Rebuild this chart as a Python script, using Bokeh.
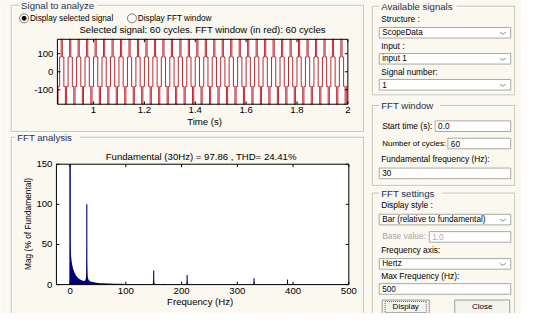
import numpy as np
from bokeh.plotting import figure
from bokeh.models import Range1d
from bokeh.core.properties import value
from bokeh.embed import file_html
from bokeh.resources import INLINE

# ---------------- data ----------------
# Signal to analyze: one period of the stepped waveform (phase within a cycle, level)
wave_cycle_phase = [0.0, 0.18, 0.18, 0.32, 0.32, 0.5, 0.5, 0.68, 0.68, 0.82, 0.82, 1.0]
wave_cycle_level = [82, 82, 180, 180, 82, 82, -82, -82, -180, -180, -82, -82]
fundamental_hz = 30
n_cycles = 60
time_view = [0.858, 2.0]
amp_view = [-180, 180]
time_ticks = [1.0, 1.2, 1.4, 1.6, 1.8, 2.0]
time_tick_labels = ["1", "1.2", "1.4", "1.6", "1.8", "2"]
amp_ticks = [-100, 0, 100]
amp_tick_labels = ["-100", "0", "100"]

# FFT analysis: continuous part of the spectrum (Hz, % of fundamental)
spectrum_hz = [0, 0.5, 1, 1.5, 2, 3, 4, 5, 6, 7, 8, 10, 12, 14, 16, 18, 20, 22, 24, 25,
               26, 27, 28, 28.5, 29, 29.5, 30, 30.5, 31, 31.5, 32, 33, 34, 35, 37, 40, 45, 50, 55, 60,
               70, 80, 90, 100, 110, 120, 130, 140, 148, 149, 149.5, 150, 150.5, 151, 152, 160, 168, 169.5, 170, 170.5,
               172, 180, 190, 200, 207, 208, 209, 209.5, 210, 210.5, 211, 212, 220, 240, 260, 280, 300, 320, 328, 329,
               329.5, 330, 330.5, 331, 332, 350, 370, 388, 389, 389.5, 390, 390.5, 391, 392, 420, 450, 480, 500]
spectrum_pct = [52, 50, 44, 38, 34, 28, 24, 21, 18.5, 16.5, 15, 12, 10, 8.5, 7.4, 6.5, 5.7, 5.0, 4.6, 4.5,
                4.7, 5.4, 7, 9, 13, 25, 57, 26, 14, 10.5, 8.5, 6.5, 5.3, 4.6, 3.8, 3.1, 2.5, 2.1, 1.8, 1.6,
                1.3, 1.1, 1.0, 0.9, 0.8, 0.7, 0.7, 0.6, 0.8, 2, 6, 10, 6, 2, 0.8, 0.5, 0.6, 0.8, 1.5, 0.8,
                0.5, 0.4, 0.4, 0.5, 0.6, 0.8, 1.5, 4, 7, 4, 1.5, 0.8, 0.4, 0.3, 0.3, 0.3, 0.3, 0.3, 0.4, 1,
                3, 5, 3, 1, 0.4, 0.3, 0.3, 0.4, 1, 2.5, 4, 2.5, 1, 0.4, 0.3, 0.3, 0.3, 0.3]
# DC component (beyond the axis top) and harmonic lines
dc_hz = [0]
dc_pct = [165]
harmonic_hz = [30, 150, 210, 330, 390]
harmonic_pct = [100, 17.5, 12, 8, 6.3]
freq_view = [-24.5, 500]
mag_view = [0, 150]
freq_ticks = [0, 100, 200, 300, 400, 500]
freq_tick_labels = ["0", "100", "200", "300", "400", "500"]
mag_ticks = [0, 50, 100, 150]
mag_tick_labels = ["0", "50", "100", "150"]

# ---------------- styling ----------------
BG = "#faf8ef"
EDGE = "#c8c6ba"
NAVY = "#00007a"
WAVE = "#c0282d"
CHART_FONT = value("Liberation Sans")
GUI_FONT = value("Liberation Sans")

# Canvas in reference-pixel coordinates
p = figure(width=521, height=313, x_range=Range1d(4, 535), y_range=Range1d(329, 4),
           output_backend="svg", toolbar_location=None, min_border=0,
           x_axis_location=None, y_axis_location=None,
           background_fill_color=BG, border_fill_color=BG, outline_line_color=None)
p.grid.visible = False


def label(x, y, s, size="8.4px", color="#000000", align="left", angle=0.0, font=GUI_FONT, target=None,
          baseline="middle", x_off=0, y_off=0):
    (target or p).text(x=[x], y=[y], text=[s], text_font=font, text_font_size=value(size),
                       text_color=color, text_align=align, text_baseline=baseline, angle=angle,
                       x_offset=x_off, y_offset=y_off)


def panel(x0, y0, x1, y1, title, tx, tw):
    p.quad(left=[x0 + 1], right=[x1 + 1], top=[y0 + 1], bottom=[y1 + 1], fill_color=None,
           line_color="#ffffff", line_width=1)
    p.quad(left=[x0], right=[x1], top=[y0], bottom=[y1], fill_color=None, line_color=EDGE, line_width=1)
    p.quad(left=[tx - 2], right=[tx + tw + 2], top=[y0 - 2.5], bottom=[y0 + 2.5], fill_color=BG, line_color=None)
    label(tx, y0, title, size="9.6px", color="#22305a")


def box(x0, y0, x1, y1, s, dropdown=False, color="#000000"):
    p.quad(left=[x0], right=[x1], top=[y0], bottom=[y1], fill_color="#ffffff", line_color="#a9a9a4")
    label(x0 + 3, (y0 + y1) / 2, s, size="8.2px", color=color)
    if dropdown:
        cx, cy = x1 - 8, (y0 + y1) / 2
        p.line(x=[cx - 3, cx, cx + 3], y=[cy - 0.5, cy + 1.5, cy - 0.5], line_color="#7f8ca0", line_width=1)


# ---------------- left: Signal to analyze ----------------
panel(15, 9, 374, 140, "Signal to analyze", 25, 76)
p.scatter(x=[28, 138], y=[22.5, 22.5], size=9, marker="circle", fill_color="#ffffff", line_color="#7a7a7a")
p.scatter(x=[28], y=[22.5], size=4, marker="circle", fill_color="#000000", line_color="#000000")
label(34, 22.5, "Display selected signal", size="8.2px")
label(144, 22.5, "Display FFT window", size="8.2px")
label(210, 34.5, "Selected signal: 60 cycles. FFT window (in red): 60 cycles", size="9.6px",
      align="center", font=CHART_FONT)

SX0, SX1, SYT, SYB = 62, 358, 44.3, 111.7
p.quad(left=[SX0], right=[SX1], top=[SYT], bottom=[SYB], fill_color="#ffffff", line_color=None)
sig = p.subplot(x_source=Range1d(*time_view), y_source=Range1d(*amp_view),
                x_target=Range1d(SX0, SX1), y_target=Range1d(SYB, SYT))

t_pts, v_pts = [], []
for k in range(n_cycles):
    for ph, lv in zip(wave_cycle_phase, wave_cycle_level):
        t = (k + ph) / fundamental_hz
        if time_view[0] <= t <= time_view[1]:
            t_pts.append(t)
            v_pts.append(lv)
sig.line(x=t_pts, y=v_pts, line_color=WAVE, line_width=1)

tly = (amp_view[1] - amp_view[0]) * 3 / (SYB - SYT)
tlx = (time_view[1] - time_view[0]) * 3 / (SX1 - SX0)
nx = len(time_ticks)
ny = len(amp_ticks)
sig.segment(x0=time_ticks, x1=time_ticks, y0=[amp_view[0]] * nx, y1=[amp_view[0] + tly] * nx, line_color="#000000")
sig.segment(x0=time_ticks, x1=time_ticks, y0=[amp_view[1]] * nx, y1=[amp_view[1] - tly] * nx, line_color="#000000")
sig.segment(x0=[time_view[0]] * ny, x1=[time_view[0] + tlx] * ny, y0=amp_ticks, y1=amp_ticks, line_color="#000000")
sig.segment(x0=[time_view[1]] * ny, x1=[time_view[1] - tlx] * ny, y0=amp_ticks, y1=amp_ticks, line_color="#000000")
sig.text(x=time_ticks, y=[amp_view[0]] * nx, text=time_tick_labels, text_font=CHART_FONT,
         text_font_size=value("9.6px"), text_color="#000000", text_align="center", text_baseline="top", y_offset=3)
sig.text(x=[time_view[0]] * ny, y=amp_ticks, text=amp_tick_labels, text_font=CHART_FONT,
         text_font_size=value("9.6px"), text_color="#000000", text_align="right", text_baseline="middle", x_offset=-4)
p.quad(left=[SX0], right=[SX1], top=[SYT], bottom=[SYB], fill_color=None, line_color="#000000", line_width=1)
label(212, 129.5, "Time (s)", size="9.6px", align="center", font=CHART_FONT)

# ---------------- left: FFT analysis ----------------
panel(15, 146, 374, 345, "FFT analysis", 21, 62)
label(208.5, 166, "Fundamental (30Hz) = 97.86 , THD= 24.41%", size="9.6px", align="center", font=CHART_FONT)

FX0, FX1, FYT, FYB = 61, 359, 174, 299
p.quad(left=[FX0], right=[FX1], top=[FYT], bottom=[FYB], fill_color="#ffffff", line_color=None)
fft = p.subplot(x_source=Range1d(*freq_view), y_source=Range1d(*mag_view),
                x_target=Range1d(FX0, FX1), y_target=Range1d(FYB, FYT))
fft.varea(x=spectrum_hz, y1=[0] * len(spectrum_hz), y2=list(np.minimum(spectrum_pct, mag_view[1])),
          fill_color=NAVY)
fft.vbar(x=dc_hz, top=list(np.minimum(dc_pct, mag_view[1])), bottom=0, width=2.6, fill_color=NAVY, line_color=None)
fft.vbar(x=harmonic_hz, top=list(np.minimum(harmonic_pct, mag_view[1])), bottom=0, width=2.0,
         fill_color=NAVY, line_color=None)

fly = (mag_view[1] - mag_view[0]) * 3 / (FYB - FYT)
flx = (freq_view[1] - freq_view[0]) * 3 / (FX1 - FX0)
nx = len(freq_ticks)
ny = len(mag_ticks)
fft.segment(x0=freq_ticks, x1=freq_ticks, y0=[mag_view[0]] * nx, y1=[mag_view[0] + fly] * nx, line_color="#000000")
fft.segment(x0=freq_ticks, x1=freq_ticks, y0=[mag_view[1]] * nx, y1=[mag_view[1] - fly] * nx, line_color="#000000")
fft.segment(x0=[freq_view[0]] * ny, x1=[freq_view[0] + flx] * ny, y0=mag_ticks, y1=mag_ticks, line_color="#000000")
fft.segment(x0=[freq_view[1]] * ny, x1=[freq_view[1] - flx] * ny, y0=mag_ticks, y1=mag_ticks, line_color="#000000")
fft.text(x=freq_ticks, y=[mag_view[0]] * nx, text=freq_tick_labels, text_font=CHART_FONT,
         text_font_size=value("9.6px"), text_color="#000000", text_align="center", text_baseline="top", y_offset=3)
fft.text(x=[freq_view[0]] * ny, y=mag_ticks, text=mag_tick_labels, text_font=CHART_FONT,
         text_font_size=value("9.6px"), text_color="#000000", text_align="right", text_baseline="middle", x_offset=-4)
p.quad(left=[FX0], right=[FX1], top=[FYT], bottom=[FYB], fill_color=None, line_color="#000000", line_width=1)
label(207.5, 316.5, "Frequency (Hz)", size="9.6px", align="center", font=CHART_FONT)
label(32, 236, "Mag (% of Fundamental)", size="8.4px", align="center", font=CHART_FONT, angle=np.pi / 2)

# ---------------- right: Available signals ----------------
panel(383, 10, 528, 102, "Available signals", 392, 75)
label(392, 23, "Structure :")
box(390, 32, 524, 43, "ScopeData", dropdown=True)
label(392, 51, "Input :")
box(390, 59, 524, 70, "input 1", dropdown=True)
label(392, 78, "Signal number:")
box(390, 86, 524, 97, "1", dropdown=True)

# ---------------- right: FFT window ----------------
panel(383, 113, 528, 196, "FFT window", 392, 58)
label(393, 134, "Start time (s):")
box(447, 129, 524, 140, "0.0")
label(393, 152, "Number of cycles:", size="8px")
box(460, 147, 524, 158, "60")
label(392, 169, "Fundamental frequency (Hz):")
box(390, 178, 524, 189, "30")

# ---------------- right: FFT settings ----------------
panel(383, 204, 528, 345, "FFT settings", 392, 60)
label(392, 216, "Display style :")
box(390, 226, 524, 237, "Bar (relative to fundamental)", dropdown=True)
label(393, 249, "Base value:", color="#a8a8a8")
box(441, 244, 524, 255, "1.0", color="#a8a8a8")
label(392, 263, "Frequency axis:")
box(390, 272, 524, 283, "Hertz", dropdown=True)
label(392, 290, "Max Frequency (Hz):")
box(390, 298, 524, 309, "500")

p.quad(left=[393, 467], right=[441, 523], top=[315, 315], bottom=[330, 330], fill_color="#f4f3ee",
       line_color="#9c9c98")
p.quad(left=[396], right=[438], top=[316.5], bottom=[328], fill_color=None, line_color="#606060", line_dash="1 1")
label(417, 322, "Display", size="8px", align="center")
label(495, 322, "Close", size="8px", align="center")

open("out.html", "w").write(file_html(p, INLINE))
